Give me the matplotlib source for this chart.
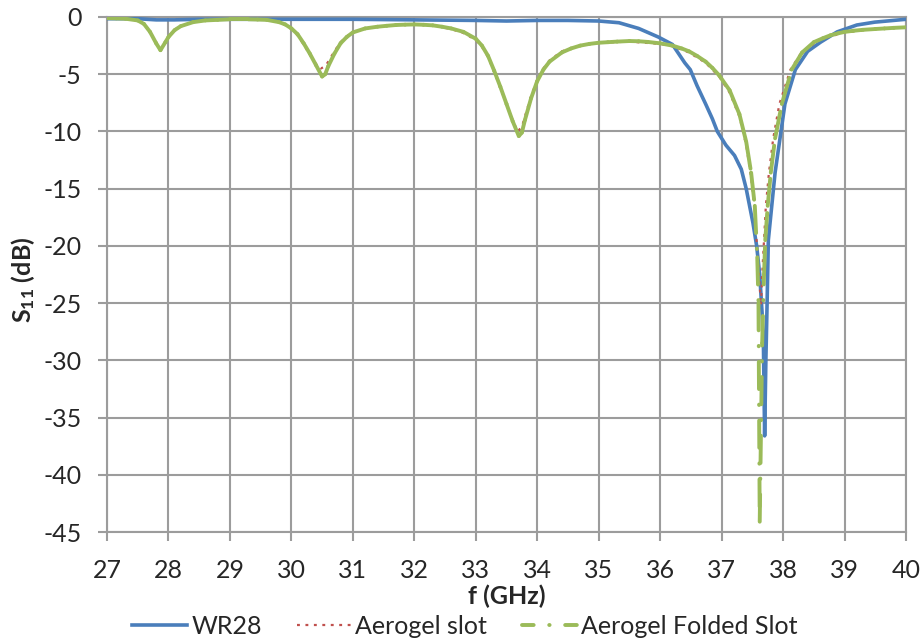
import numpy as np
import matplotlib
matplotlib.use("Agg")
import matplotlib.pyplot as plt
from matplotlib.collections import LineCollection
from matplotlib.lines import Line2D

plt.rcParams['font.family'] = ['Lato', 'DejaVu Sans']
plt.rcParams['axes.unicode_minus'] = False
plt.rcParams['mathtext.fontset'] = 'custom'
plt.rcParams['mathtext.rm'] = 'Lato'
plt.rcParams['mathtext.bf'] = 'Lato:bold'

# WR28
f_wr28 = [27.0, 27.5, 27.8, 28.1, 28.5, 29.0, 30.0, 31.0, 32.0, 33.0, 33.5, 34.0, 34.5,
          35.0, 35.33, 35.65, 35.97, 36.2, 36.4, 36.49, 36.6, 36.74, 36.85, 36.93, 37.07,
          37.21, 37.32, 37.40, 37.51, 37.57, 37.62, 37.66, 37.68, 37.70, 37.72, 37.74,
          37.76, 37.87, 38.03, 38.2, 38.4, 38.61, 38.88, 39.2, 39.49, 40.0]
s_wr28 = [-0.15, -0.15, -0.25, -0.25, -0.2, -0.2, -0.2, -0.2, -0.25, -0.3, -0.35, -0.3, -0.3,
          -0.35, -0.5, -1.0, -1.75, -2.4, -4.0, -4.6, -6.0, -7.6, -8.9, -10.0, -11.2,
          -12.1, -13.3, -15.0, -18.0, -20.0, -22.5, -26.0, -28.5, -36.6, -30.0, -25.0,
          -19.5, -13.6, -7.6, -4.6, -3.0, -2.2, -1.3, -0.7, -0.45, -0.2]

# Aerogel slot
f_slot = [27.0, 27.3, 27.5, 27.6, 27.7, 27.8, 27.87, 27.95, 28.0, 28.1, 28.2, 28.4, 28.6,
          28.8, 29.0, 29.3, 29.6, 29.8, 29.9, 30.0, 30.1, 30.2, 30.3, 30.4, 30.48, 30.55,
          30.6, 30.7, 30.8, 30.9, 31.0, 31.2, 31.4, 31.7, 32.0, 32.3, 32.6, 32.8, 33.0,
          33.1, 33.2, 33.3, 33.4, 33.5, 33.6, 33.68, 33.75, 33.8, 33.9, 34.0, 34.1, 34.2,
          34.4, 34.7, 35.0, 35.5, 36.0, 36.2, 36.47, 36.74, 36.96, 37.13, 37.29, 37.40,
          37.48, 37.54, 37.58, 37.62, 37.64, 37.66, 37.72, 37.77, 37.84, 37.94, 38.12,
          38.3, 38.6, 39.0, 39.5, 40.0]
s_slot = [-0.1, -0.15, -0.3, -0.6, -1.3, -2.2, -2.8, -2.2, -1.7, -1.1, -0.8, -0.45, -0.3,
          -0.25, -0.2, -0.2, -0.25, -0.45, -0.7, -1.05, -1.6, -2.4, -3.3, -4.1, -4.5, -4.3,
          -3.9, -3.0, -2.2, -1.7, -1.3, -1.0, -0.85, -0.7, -0.65, -0.75, -1.05, -1.4, -2.0,
          -2.6, -3.5, -4.8, -6.2, -7.6, -9.0, -10.0, -9.6, -8.7, -6.9, -5.5, -4.5, -3.8,
          -3.0, -2.5, -2.25, -2.15, -2.35, -2.55, -3.1, -4.0, -5.2, -6.6, -8.7, -11.2,
          -14.0, -17.0, -20.5, -23.5, -25.2, -22.5, -16.5, -13.6, -10.6, -7.6, -4.6,
          -3.1, -1.95, -1.35, -1.05, -0.9]

# Aerogel Folded Slot
f_fold = [27.0, 27.15, 27.3, 27.5, 27.6, 27.7, 27.8, 27.87, 27.95, 28.0, 28.1, 28.2, 28.4,
          28.6, 28.8, 29.0, 29.15, 29.3, 29.45, 29.6, 29.8, 29.9, 30.0, 30.1, 30.2, 30.3,
          30.4, 30.5, 30.55, 30.6, 30.7, 30.8, 30.9, 31.0, 31.2, 31.4, 31.55, 31.7, 31.85,
          32.0, 32.15, 32.3, 32.45, 32.6, 32.8, 33.0, 33.1, 33.2, 33.3, 33.4, 33.5, 33.6,
          33.7, 33.75, 33.8, 33.9, 34.0, 34.1, 34.2, 34.4, 34.55, 34.7, 34.85, 35.0, 35.15,
          35.3, 35.5, 35.65, 35.8, 36.0, 36.2, 36.35, 36.47, 36.6, 36.74, 36.85, 36.96,
          37.13, 37.29, 37.40, 37.48, 37.54, 37.58, 37.60, 37.62, 37.66, 37.69, 37.71,
          37.75, 37.80, 37.87, 37.98, 38.14, 38.31, 38.5, 38.65, 38.77, 38.9, 39.0, 39.15,
          39.3, 39.5, 39.65, 39.8, 40.0]
s_fold = [-0.1, -0.12, -0.15, -0.3, -0.6, -1.3, -2.3, -2.9, -2.2, -1.75, -1.15, -0.8, -0.45,
          -0.3, -0.25, -0.2, -0.2, -0.2, -0.22, -0.25, -0.45, -0.65, -1.0, -1.5, -2.3, -3.2,
          -4.2, -5.2, -5.0, -4.3, -3.2, -2.3, -1.75, -1.35, -1.0, -0.85, -0.77, -0.7, -0.67,
          -0.65, -0.68, -0.73, -0.85, -1.0, -1.3, -1.9, -2.5, -3.4, -4.7, -6.1, -7.6, -9.1,
          -10.4, -10.1, -9.0, -7.1, -5.6, -4.6, -3.9, -3.1, -2.75, -2.5, -2.35, -2.25, -2.2,
          -2.15, -2.1, -2.12, -2.18, -2.3, -2.5, -2.75, -3.0, -3.4, -3.9, -4.45, -5.1,
          -6.4, -8.5, -10.9, -13.6, -16.5, -21.0, -25.0, -44.1, -28.5, -22.5, -19.5,
          -16.5, -13.6, -10.6, -7.6, -4.6, -3.1, -2.2, -1.85, -1.6, -1.42, -1.3, -1.2,
          -1.12, -1.05, -1.0, -0.95, -0.9]

blue = '#4a7ebb'
red = '#c0504d'
green = '#9bbb59'
gray = '#9c9c9c'
txt = '#262626'

fig = plt.figure(figsize=(9.23, 6.41), dpi=100)
ax = fig.add_axes([107 / 923, 1 - 532 / 641, 799 / 923, 515 / 641])

ax.plot(f_wr28, s_wr28, color=blue, lw=2.6, solid_joinstyle='round', zorder=3)
ax.plot(f_slot, s_slot, color=red, lw=1.6, linestyle=(0, (1.3, 2.5)), zorder=4)

# excel restarts the dash pattern on every segment
pts = np.column_stack([f_fold, s_fold])
segs = np.stack([pts[:-1], pts[1:]], axis=1)
lc = LineCollection(segs, colors=green, linewidths=2.8, linestyles=[(0, (7, 4, 0.1, 4))],
                    capstyle='round', zorder=5)
ax.add_collection(lc)

ax.set_xlim(27, 40)
ax.set_ylim(-45, 0)
ax.set_xticks(range(27, 41))
ax.set_yticks(range(-45, 1, 5))
ax.grid(True, color=gray, lw=1.5)
ax.set_axisbelow(True)
for sp in ax.spines.values():
    sp.set_color(gray)
    sp.set_linewidth(1.5)
ax.tick_params(axis='both', length=6.5, width=1.5, color=gray, labelsize=18,
               labelcolor=txt)
ax.tick_params(axis='y', pad=12)
ax.tick_params(axis='x', pad=13)

ax.set_xlabel('f (GHz)', fontsize=18, fontweight='bold', color=txt)
ax.xaxis.set_label_coords(0.5, -0.103)
ax.set_ylabel(r'$\mathbf{S_{11}}$ (dB)', fontsize=18, fontweight='bold', color=txt)
ax.yaxis.set_label_coords(-0.087, 0.49)

handles = [Line2D([], [], color=blue, lw=2.6),
           Line2D([], [], color=red, lw=1.6, linestyle=(0, (1.3, 2.5))),
           Line2D([], [], color=green, lw=2.8, linestyle=(0, (3, 4, 0.1, 4)),
                  dash_capstyle='round')]
fig.legend(handles, ['WR28', 'Aerogel slot', 'Aerogel Folded Slot'],
           loc='center', bbox_to_anchor=(465 / 923, 1 - 626 / 641), ncol=3,
           frameon=False, fontsize=18, handlelength=2.2, handletextpad=0.15,
           columnspacing=1.4, labelcolor=txt)

fig.savefig('out.png', dpi=100)
